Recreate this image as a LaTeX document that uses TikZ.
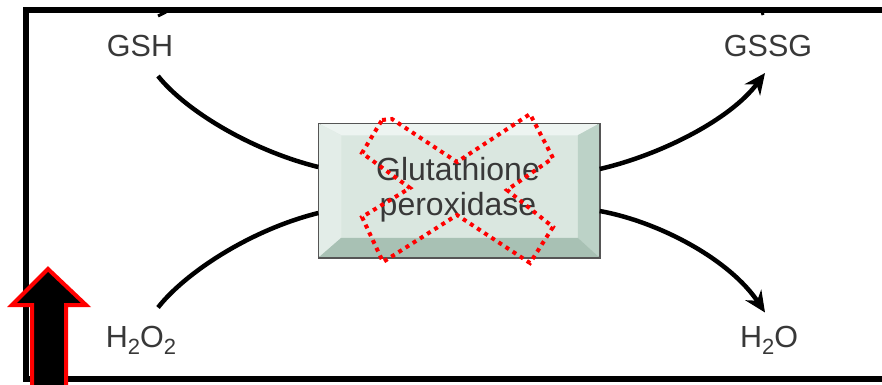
\documentclass[tikz,border=0pt]{standalone}
\usepackage{fontspec}
\setmainfont{Liberation Sans}
\usetikzlibrary{arrows.meta}
\definecolor{txt}{HTML}{383838}
\definecolor{face}{HTML}{DAE7E0}
\definecolor{bevtop}{HTML}{EDF4F1}
\definecolor{bevleft}{HTML}{E3EDE8}
\definecolor{bevright}{HTML}{BCD2C7}
\definecolor{bevbot}{HTML}{A8C1B4}
\definecolor{boxline}{HTML}{555555}
\newcommand{\subtwo}{{\fontsize{22}{22}\selectfont\raisebox{-7pt}{2}}}
\begin{document}
\begin{tikzpicture}[x=1pt,y=-1pt,
  lbl/.style={text=txt,font=\fontsize{30.5}{34}\selectfont,inner sep=0pt},
  conn/.style={line width=4.5pt,black},
  tip/.style={-{Stealth[length=21pt,width=19pt]}},
  enzbox/.style={draw=boxline,line width=1.5pt,fill=face,minimum width=280pt,minimum height=133pt,inner sep=0pt},
  crossout/.style={red,line width=4pt,dash pattern=on 4pt off 4.5pt},
  frame/.style={line width=5.5pt,black}]
\useasboundingbox (0,0) rectangle (882,384);
% frame
\draw[frame] (882,10) -- (26,10) -- (26,379) -- (882,379);
\draw[line width=3pt] (158,16) -- (166,12);
\draw[line width=3pt] (762,12) -- (763,15);
% labels
\node[lbl] (gsh) at (140,46) {GSH};
\node[lbl] (gssg) at (768,46) {GSSG};
\node[lbl,anchor=base] (hoo) at (141,347) {H\subtwo O\subtwo};
\node[lbl,anchor=base] (ho) at (769,347) {H\subtwo O};
% enzyme box
\node[enzbox] (enz) at (459,190.5) {};
\coordinate (inw) at ([shift={(23,12)}]enz.north west);
\coordinate (ine) at ([shift={(-22,12)}]enz.north east);
\coordinate (isw) at ([shift={(23,-20)}]enz.south west);
\coordinate (ise) at ([shift={(-22,-20)}]enz.south east);
\fill[bevtop] (enz.north west) -- (enz.north east) -- (ine) -- (inw) -- cycle;
\fill[bevleft] (enz.north west) -- (inw) -- (isw) -- (enz.south west) -- cycle;
\fill[bevright] (enz.north east) -- (enz.south east) -- (ise) -- (ine) -- cycle;
\fill[bevbot] (enz.south west) -- (isw) -- (ise) -- (enz.south east) -- cycle;
\draw[boxline,line width=1.5pt] (enz.north west) rectangle (enz.south east);
\node[lbl,align=center,font=\fontsize{32}{35}\selectfont] (enzt) at (458,190) {Glutathione\\peroxidase};
% connectors
\draw[conn] ([shift={(18,19)}]gsh.south) .. controls (185,110) and (250,150) .. ([yshift=23.5pt]enz.west);
\draw[conn] ([shift={(17,-18)}]hoo.north) .. controls (185,273) and (250,230) .. ([yshift=-22.5pt]enz.west);
\draw[conn,tip] ([yshift=21.5pt]enz.east) .. controls (660,155) and (730,120) .. ([shift={(-3,16)}]gssg.south);
\draw[conn,tip] ([yshift=-20.5pt]enz.east) .. controls (660,222) and (730,260) .. ([shift={(-4,-13)}]ho.north);
% red dotted X
\draw[crossout] (382,120) -- (392,119) -- (457,162) -- (530,114) -- (553,158) -- (507,190) -- (553,227) -- (530,263) -- (457,215) -- (383,262) -- (362,217) -- (410,188) -- (362,153) -- cycle;
% red block arrow
\draw[red,line width=4pt,fill=black,line join=miter] (48,269) -- (86,305) -- (66,305) -- (66,392) -- (32,392) -- (32,305) -- (12,305) -- cycle;
\end{tikzpicture}
\end{document}
